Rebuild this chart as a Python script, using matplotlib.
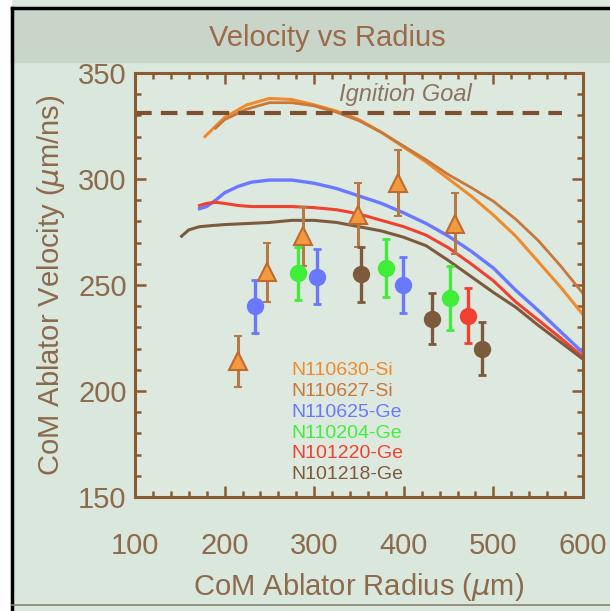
import numpy as np
import matplotlib.pyplot as plt
from matplotlib.patches import Rectangle
from matplotlib.lines import Line2D
from matplotlib.ticker import MultipleLocator

# simulated curves
x_si630 = [178, 200, 225, 250, 275, 300, 325, 350, 375, 400, 425, 450, 475, 500, 525, 550, 575, 600]
y_si630 = [320, 329, 335, 338, 337.5, 335, 332, 328, 322, 315, 308, 300, 292, 283, 273, 261, 249, 236]
x_si627 = [190, 200, 225, 250, 275, 300, 325, 350, 375, 400, 425, 450, 475, 500, 525, 550, 575, 600]
y_si627 = [324, 328, 333, 336, 336, 334.5, 331.5, 327.5, 322, 315.5, 309, 302, 296, 289.5, 281, 271, 259, 246]
x_ge625 = [172, 180, 190, 200, 215, 230, 250, 275, 300, 325, 350, 375, 400, 425, 450, 475, 500, 525, 550, 575, 600]
y_ge625 = [286, 287, 290, 293.5, 296.5, 298.5, 299.5, 299.5, 298, 295.5, 292, 288.5, 284, 279, 273, 266, 258, 247.5, 238, 228, 218]
x_ge220 = [172, 180, 190, 200, 215, 230, 250, 275, 300, 325, 350, 375, 400, 425, 450, 475, 500, 525, 550, 575, 600]
y_ge220 = [287.5, 288.5, 289, 288.5, 287.5, 287, 287, 287, 286.5, 285.5, 283.5, 280.5, 277.5, 273.5, 267.5, 260, 252, 242, 233.5, 225, 216]
x_ge218 = [152, 160, 172, 185, 200, 225, 250, 275, 300, 325, 350, 375, 400, 425, 450, 475, 500, 525, 550, 575, 600]
y_ge218 = [273, 276, 277.5, 278, 278.5, 279, 279.5, 280.5, 280.5, 279.5, 277.5, 275.5, 272.5, 268.5, 261.5, 254, 246.5, 239.5, 231, 223, 215]

# measured points (radius, velocity, error)
tri_x = [215, 247, 288, 349, 394, 457]
tri_y = [214, 256, 273, 283, 298, 279]
tri_e = [12, 14, 14, 15, 15.5, 14.5]
blue_x = [234, 303, 399]
blue_y = [240, 254, 250]
blue_e = [12.5, 13, 13]
green_x = [282, 380, 452]
green_y = [255.5, 258, 244]
green_e = [12.5, 13.5, 15]
brown_x = [352, 431, 487]
brown_y = [255, 234, 220]
brown_e = [13, 12, 12.5]
red_x = [472]
red_y = [235.5]
red_e = [13]

ignition_goal = 331
shots = ["N110630-Si", "N110627-Si", "N110625-Ge", "N110204-Ge", "N101220-Ge", "N101218-Ge"]

c_orange = '#f08a2c'
c_orbrown = '#c8783a'
c_blue = '#6a78ff'
c_green = '#40ee3a'
c_red = '#f24030'
c_brown = '#7e5a3c'
c_axis = '#8a5a30'
c_text = '#8c6a4c'
shot_colors = [c_orange, c_orbrown, c_blue, c_green, c_red, c_brown]

plt.rcParams['font.family'] = ['Liberation Sans', 'DejaVu Sans']

fig = plt.figure(figsize=(6.10, 6.11), dpi=100, facecolor='#d9e7dd')
# photo framing
fig.patches.append(Rectangle((0, 0), 11/610, 1, transform=fig.transFigure, color='white', zorder=0))
fig.patches.append(Rectangle((11/610, 1 - 62/611), 1, 53/611, transform=fig.transFigure,
                             color='#c9d5c8', zorder=0))
fig.add_artist(Line2D([12/610, 12/610], [0, 1 - 8/611], transform=fig.transFigure, color='black', lw=2.5))
fig.add_artist(Line2D([12/610, 1], [1 - 8/611, 1 - 8/611], transform=fig.transFigure, color='black', lw=2.5))
fig.add_artist(Line2D([12/610, 1], [6/611, 6/611], transform=fig.transFigure, color='#8a8070', lw=1.2))

ax = fig.add_axes([135/610, 1 - 497/611, 448/610, 424/611])
ax.set_facecolor('#dde9df')

ax.plot(x_si630, y_si630, color=c_orange, lw=2.2)
ax.plot(x_si627, y_si627, color=c_orbrown, lw=2.0)
ax.plot(x_ge625, y_ge625, color=c_blue, lw=2.4)
ax.plot(x_ge220, y_ge220, color=c_red, lw=2.2)
ax.plot(x_ge218, y_ge218, color=c_brown, lw=2.2)

ax.plot([100, 577], [ignition_goal, ignition_goal], ls=(0, (4, 2.2)), color='#7e5030', lw=3)
ax.text(402, 340, "Ignition Goal", style='italic', fontsize=17, color='#8a7460', ha='center', va='center')

ax.errorbar(tri_x, tri_y, yerr=tri_e, fmt='^', ms=13, mfc='#f39a40', mec='#c06a30', mew=1.5,
            ecolor='#b57a48', elinewidth=2.2, capsize=3, capthick=2)
for xs, ys, es, col in [(blue_x, blue_y, blue_e, c_blue), (green_x, green_y, green_e, c_green),
                        (brown_x, brown_y, brown_e, c_brown), (red_x, red_y, red_e, c_red)]:
    ax.errorbar(xs, ys, yerr=es, fmt='o', ms=11.5, color=col, elinewidth=2.4, capsize=3, capthick=2)

for i in range(len(shots)):
    ax.text(274, 209.5 - i * 9.8, shots[i], color=shot_colors[i], fontsize=14, va='center')

ax.set_xlim(100, 600)
ax.set_ylim(150, 350)
ax.xaxis.set_major_locator(MultipleLocator(100))
ax.xaxis.set_minor_locator(MultipleLocator(20))
ax.yaxis.set_major_locator(MultipleLocator(50))
ax.yaxis.set_minor_locator(MultipleLocator(10))
for s in ax.spines.values():
    s.set_color(c_axis)
    s.set_linewidth(2.2)
ax.tick_params(which='both', direction='in', top=True, right=True, color=c_axis, width=1.8,
               labelcolor=c_text, labelsize=21)
ax.tick_params(which='major', length=8)
ax.tick_params(which='minor', length=4)
ax.tick_params(axis='x', pad=25)
ax.tick_params(axis='y', pad=6)

ax.set_xlabel(r'CoM Ablator Radius ($\mu$m)', fontsize=21, color=c_text, labelpad=8)
ax.set_ylabel(r'CoM Ablator Velocity ($\mu$m/ns)', fontsize=21, color=c_text, labelpad=8)
fig.text(327/610, 1 - 38/611, "Velocity vs Radius", fontsize=21, color='#9a6a4a', ha='center', va='center',
         family=['Liberation Sans Narrow', 'Liberation Sans', 'DejaVu Sans'])

plt.savefig("out.png", dpi=100, facecolor=fig.get_facecolor())
